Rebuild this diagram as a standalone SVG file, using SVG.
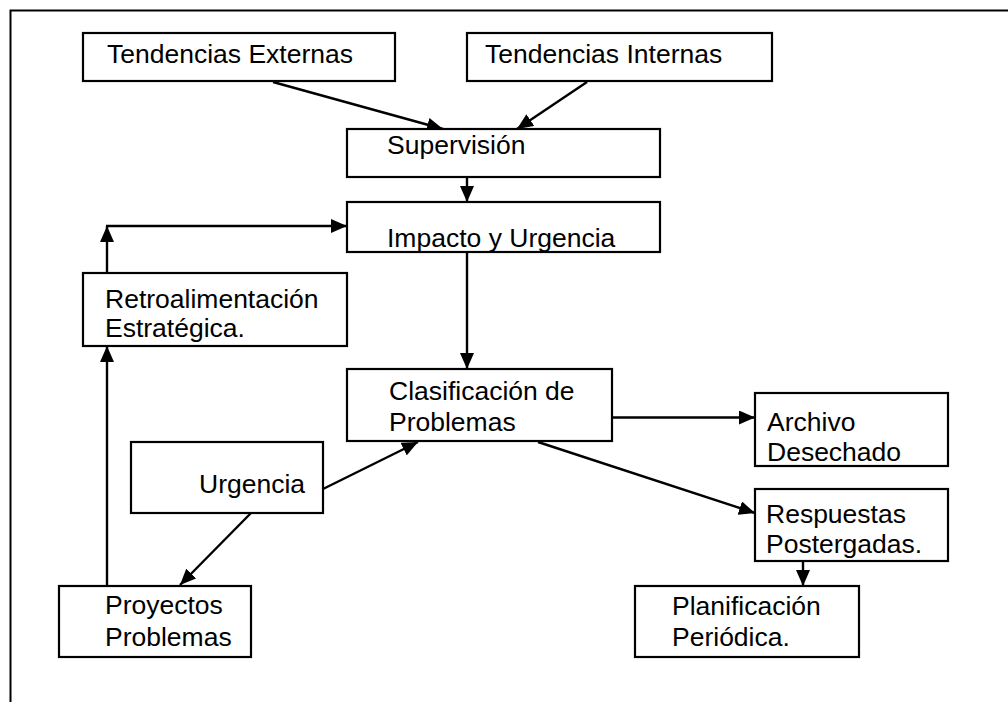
<svg xmlns="http://www.w3.org/2000/svg" width="1008" height="702" viewBox="0 0 1008 702">
  <style>
    .box { fill: #ffffff; stroke: #000000; stroke-width: 2.2; }
    .lbl { font-family: "Liberation Sans", Arial, sans-serif; font-size: 26.5px; fill: #000000; }
    .edge { fill: none; stroke: #000000; stroke-width: 2.4; }
    .frame { fill: none; stroke: #000000; stroke-width: 2; }
  </style>
  <defs>
    <marker id="arrow" markerUnits="userSpaceOnUse" markerWidth="16" markerHeight="14" refX="16" refY="7" orient="auto">
      <path d="M0,0 L16,7 L0,14 Z" fill="#000000"/>
    </marker>
  </defs>

  <rect width="1008" height="702" fill="#ffffff"/>
  <!-- page frame -->
  <path class="frame" d="M10.5,702 V10.5 H1008"/>

  <!-- connectors -->
  <g id="connectors">
    <path class="edge" d="M273,82 L443,129" marker-end="url(#arrow)"/>
    <path class="edge" d="M587,82 L517,129" marker-end="url(#arrow)"/>
    <path class="edge" d="M467,177 L467,202" marker-end="url(#arrow)"/>
    <path class="edge" d="M107,273 L107,226" marker-end="url(#arrow)"/>
    <path class="edge" d="M106,226 L347,226" marker-end="url(#arrow)"/>
    <path class="edge" d="M467,252 L467,369" marker-end="url(#arrow)"/>
    <path class="edge" d="M612,417.5 L755,417.5" marker-end="url(#arrow)"/>
    <path class="edge" d="M323,489 L418,442" marker-end="url(#arrow)"/>
    <path class="edge" d="M538,442 L755,513" marker-end="url(#arrow)"/>
    <path class="edge" d="M251,513 L180,585" marker-end="url(#arrow)"/>
    <path class="edge" d="M107,586 L107,346" marker-end="url(#arrow)"/>
    <path class="edge" d="M803,562 L803,586" marker-end="url(#arrow)"/>
  </g>

  <g id="tendencias-externas">
    <rect class="box" x="83" y="33" width="312" height="48"/>
    <text class="lbl" x="107" y="63">Tendencias Externas</text>
  </g>
  <g id="tendencias-internas">
    <rect class="box" x="467" y="33" width="305" height="48"/>
    <text class="lbl" x="485" y="63">Tendencias Internas</text>
  </g>
  <g id="supervision">
    <rect class="box" x="347" y="129" width="313" height="48"/>
    <text class="lbl" x="387" y="154">Supervisión</text>
  </g>
  <g id="impacto-urgencia">
    <rect class="box" x="347" y="202" width="313" height="50"/>
    <text class="lbl" x="387" y="247">Impacto y Urgencia</text>
  </g>
  <g id="retroalimentacion">
    <rect class="box" x="83" y="273" width="264" height="73"/>
    <text class="lbl" x="105" y="308">Retroalimentación</text>
    <text class="lbl" x="105" y="337">Estratégica.</text>
  </g>
  <g id="clasificacion">
    <rect class="box" x="347" y="369" width="265" height="72"/>
    <text class="lbl" x="389" y="400">Clasificación de</text>
    <text class="lbl" x="389" y="431">Problemas</text>
  </g>
  <g id="archivo">
    <rect class="box" x="755" y="393" width="193" height="73"/>
    <text class="lbl" x="767" y="431">Archivo</text>
    <text class="lbl" x="767" y="461">Desechado</text>
  </g>
  <g id="urgencia">
    <rect class="box" x="131" y="442" width="192" height="71"/>
    <text class="lbl" x="199" y="493">Urgencia</text>
  </g>
  <g id="respuestas">
    <rect class="box" x="755" y="489" width="193" height="72"/>
    <text class="lbl" x="766" y="523">Respuestas</text>
    <text class="lbl" x="766" y="553">Postergadas.</text>
  </g>
  <g id="proyectos">
    <rect class="box" x="59" y="586" width="192" height="71"/>
    <text class="lbl" x="105" y="614">Proyectos</text>
    <text class="lbl" x="105" y="646">Problemas</text>
  </g>
  <g id="planificacion">
    <rect class="box" x="635" y="586" width="224" height="71"/>
    <text class="lbl" x="672" y="615">Planificación</text>
    <text class="lbl" x="672" y="646">Periódica.</text>
  </g>
</svg>
